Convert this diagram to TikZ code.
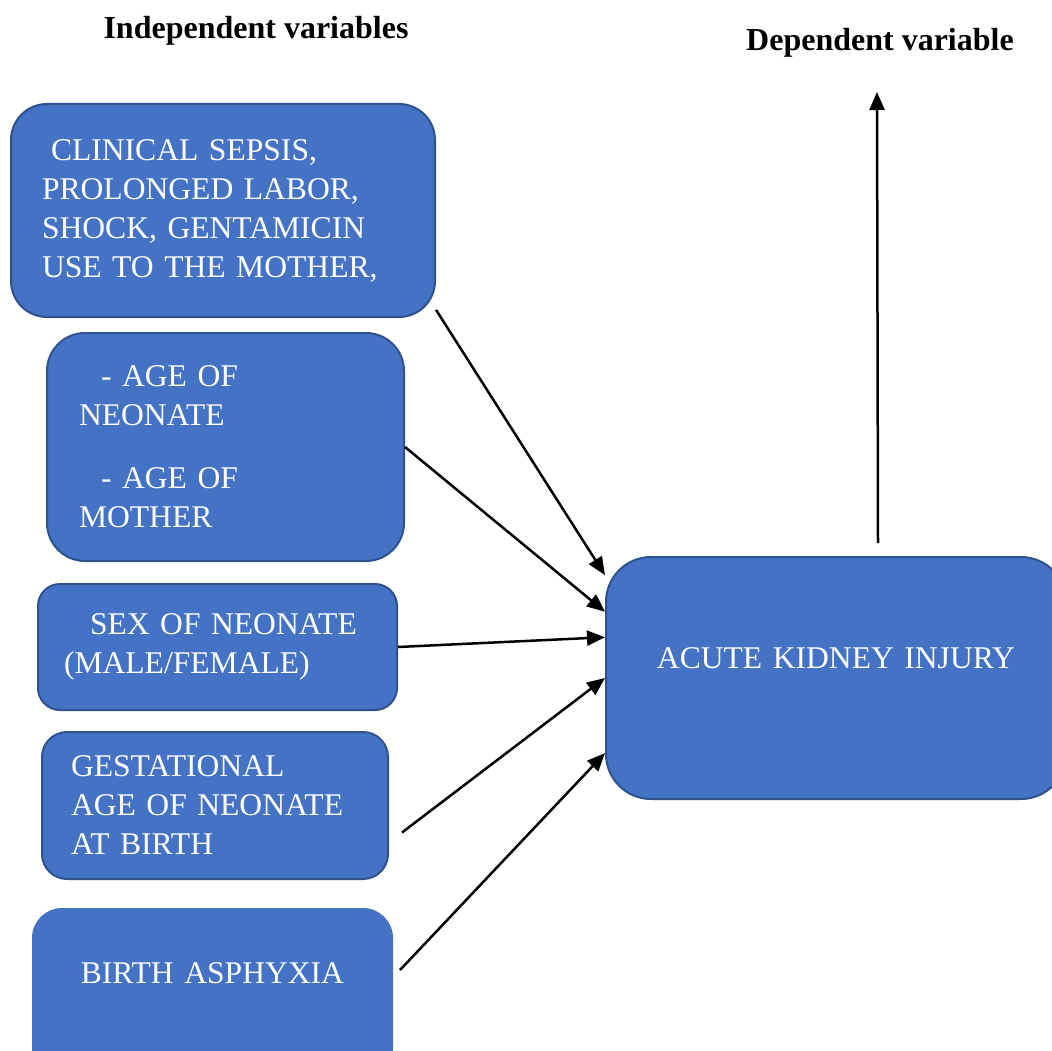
\documentclass[tikz,border=0pt]{standalone}
\usepackage{fontspec}
\setmainfont{Liberation Serif}
\usetikzlibrary{arrows.meta,positioning}
\definecolor{boxblue}{HTML}{4472C4}
\definecolor{edgeblue}{HTML}{2F528F}
\tikzset{
  factor/.style={draw=edgeblue, fill=boxblue, line width=2pt, text=white,
    font=\fontsize{31.6}{39}\selectfont, anchor=north west, align=left},
  heading/.style={font=\fontsize{32}{39.5}\selectfont\bfseries},
  arr/.style={line width=2.5pt, -{Triangle[length=18pt,width=15pt]}}
}
\begin{document}
\begin{tikzpicture}[x=1pt,y=1pt,line join=round]
\useasboundingbox (0,0) rectangle (1052,-1051);
\clip (0,0) rectangle (1052,-1051);
\node[heading] (indep) at (256,-31) {Independent variables};
\node[heading] (dep) at (880,-43) {Dependent variable};

\node[factor, inner xsep=31pt, text width=362pt, minimum height=213pt, rounded corners=36pt] (sepsis) at (10,-103)
  {\hspace{9pt}CLINICAL SEPSIS,\\PROLONGED LABOR,\\SHOCK, GENTAMICIN\\USE TO THE MOTHER,\\[6pt]};
\node[factor, inner xsep=32pt, text width=293pt, minimum height=228pt, rounded corners=38pt] (age) at (46,-332)
  {\hspace{22pt}- AGE OF\\NEONATE\\[24pt]\hspace{22pt}- AGE OF\\MOTHER};
\node[factor, inner xsep=26pt, text width=307pt, minimum height=126pt, rounded corners=22pt] (sex) at (37,-583)
  {\hspace{26pt}SEX OF NEONATE\\(MALE/FEMALE)};
\node[factor, inner xsep=29pt, text width=288pt, minimum height=147pt, rounded corners=25pt] (gest) at (41,-731)
  {GESTATIONAL\\AGE OF NEONATE\\AT BIRTH};
\node[factor, draw=none, align=center, inner xsep=0pt, text width=361pt, minimum height=170pt, rounded corners=30pt] (asph) at (31,-907)
  {BIRTH ASPHYXIA\\\mbox{}};
\node[factor, align=center, inner xsep=0pt, text width=460pt, minimum height=242pt, rounded corners=45pt] (aki) at (605,-556)
  {ACUTE KIDNEY INJURY\\\mbox{}};

\coordinate (deptip) at (877,-92);
\draw[arr] (sepsis.-25) -- (aki.156);
\draw[arr] (age.east) -- (aki.164);
\draw[arr] (sex.east) -- (aki.170);
\draw[arr] ([shift={(13pt,-27pt)}]gest.east) -- (aki.180);
\draw[arr] ([shift={(6pt,23pt)}]asph.east) -- (aki.198);
\draw[arr] ([shift={(42pt,13pt)}]aki.north) -- (deptip);
\end{tikzpicture}
\end{document}
